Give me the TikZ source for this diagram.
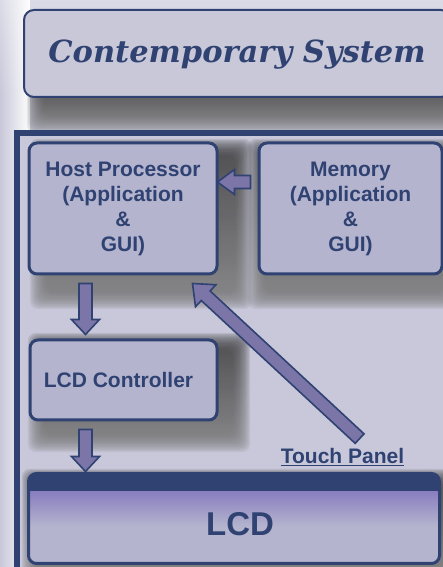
\documentclass[tikz,border=0pt]{standalone}
\usepackage{fontspec}
\setmainfont{Liberation Sans}
\newfontfamily\titlefont{DejaVu Serif}
\usetikzlibrary{calc,fadings}
\definecolor{navy}{HTML}{2F4272}
\definecolor{boxfill}{HTML}{B4B4CE}
\definecolor{titlefill}{HTML}{C8C8D8}
\definecolor{bg}{HTML}{C8C8DA}
\definecolor{shade}{HTML}{5A42B0}
\definecolor{arrowfill}{HTML}{7C75A8}
\newcommand{\softshadow}[4]{%
  \foreach \i in {1,...,14}{%
    \fill[shade, opacity=0.065, rounded corners=8pt]
      ($(#1,#2)+(-1.3*\i,-1.3*\i)$) rectangle ($(#3,#4)+(1.3*\i,1.3*\i)$);}}
\tikzset{
  blockbox/.style={draw=navy, line width=3pt, fill=boxfill, rounded corners=8pt,
    text=navy, align=center, inner sep=0pt,
    font=\fontsize{21}{25}\selectfont\bfseries},
  barrow/.style={draw=navy, line width=1.6pt, fill=arrowfill, line join=miter},
}
\begin{document}
\begin{tikzpicture}[x=1pt,y=1pt]
\useasboundingbox (0,0) rectangle (443,567);
\fill[bg] (0,0) rectangle (443,567);
\fill[white, path fading=west] (0,0) rectangle (30,567);
\fill[white, opacity=0.35, path fading=south] (0,470) rectangle (443,567);
% title shadow
\softshadow{45}{452}{445}{472}
% title box
\node[draw=navy, line width=2pt, fill=titlefill, rounded corners=10pt,
      minimum width=427pt, minimum height=87pt, inner sep=0pt, anchor=west,
      text=navy] (title) at (23,513.5) {};
\node[text=navy, font=\titlefont\bfseries\itshape\fontsize{30.5}{36}\selectfont] (titletext)
      at (237,512) {Contemporary System};
% outer frame
\fill[bg] (16.5,-5) rectangle (450,433.5);
\draw[navy, line width=6pt] (16.5,-5) -- (16.5,433.5) -- (450,433.5);
% shadows
\softshadow{48}{276}{234}{410}
\softshadow{266}{276}{442}{410}
\softshadow{46}{133}{232}{216}
\softshadow{40}{-5}{440}{80}
% boxes
\node[blockbox, minimum width=188pt, minimum height=131pt] (host) at (123,358.5)
  {Host Processor\\(Application\\\&\\GUI)};
\node[blockbox, minimum width=183pt, minimum height=131pt] (mem) at (350.5,358.5)
  {Memory\\(Application\\\&\\GUI)};
\node[blockbox, minimum width=187pt, minimum height=80pt] (ctrl) at (123.5,187)
  {\hspace*{-10pt}LCD Controller};
\node[blockbox, minimum width=408pt, minimum height=87pt, fill=none] (lcd) at (234,48.5) {};
\begin{scope}
  \clip[rounded corners=8pt] (lcd.south west) rectangle (lcd.north east);
  \fill[boxfill] (lcd.south west) rectangle (lcd.north east);
  \shade[top color=shade!50!boxfill, bottom color=boxfill]
    ($(lcd.north west)+(0,-16)$) rectangle ($(lcd.east)+(0,-8)$);
  \fill[navy] ($(lcd.north west)+(0,-18)$) rectangle (lcd.north east);
\end{scope}
\draw[navy, line width=3pt, rounded corners=8pt] (lcd.south west) rectangle (lcd.north east);
\node[text=navy, font=\fontsize{33}{36}\selectfont\bfseries] (lcdtext) at (240,43) {LCD};
\node[text=navy, font=\fontsize{21}{25}\selectfont\bfseries] (touch) at (342.5,110)
  {\underline{Touch Panel}};
% arrows
\coordinate (a1) at ($(host.south west)+(58,-8)$);
\draw[barrow] ($(a1)+(-6.5,0)$) -- ++(0,-36) -- ++(-7.5,0) -- ++(14,-15)
  -- ++(14,15) -- ++(-7.5,0) -- ++(0,36) -- cycle;
\coordinate (a2) at ($(ctrl.south west)+(57,-8)$);
\draw[barrow] ($(a2)+(-6.5,0)$) -- ++(0,-27) -- ++(-7.5,0) -- ++(14,-15)
  -- ++(14,15) -- ++(-7.5,0) -- ++(0,27) -- cycle;
\coordinate (a3) at ($(mem.west)+(-7,26.5)$);
\draw[barrow] ($(a3)+(0,-6.5)$) -- ++(-16,0) -- ++(0,-6) -- ++(-17,12.5)
  -- ++(17,12.5) -- ++(0,-6) -- ++(16,0) -- cycle;
\coordinate (tip) at ($(host.south east)+(-26,-8)$);
\begin{scope}[shift={(tip)}, rotate=-42.87]
  \draw[barrow] (0,0) -- (18,15) -- (18,6.5) -- (228,6.5) -- (228,-6.5)
    -- (18,-6.5) -- (18,-15) -- cycle;
\end{scope}
\end{tikzpicture}
\end{document}
